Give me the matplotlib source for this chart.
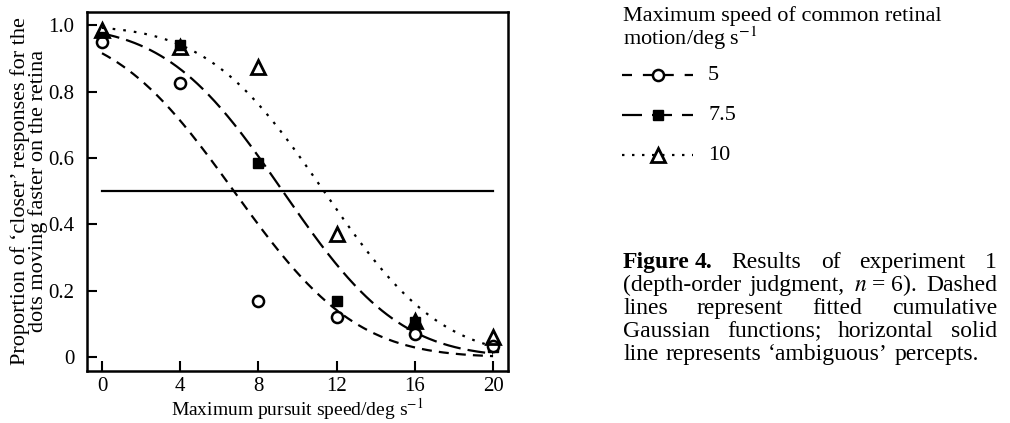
import math
import numpy as np
import matplotlib
matplotlib.use("Agg")
import matplotlib.pyplot as plt

plt.rcParams['font.family'] = ['Liberation Serif', 'DejaVu Serif']
plt.rcParams['mathtext.fontset'] = 'stix'

# pursuit speeds (deg/s)
speeds = [0, 4, 8, 12, 16, 20]

# proportion of 'closer' responses, one list per retinal speed
p_5 = [0.95, 0.825, 0.17, 0.12, 0.07, 0.035]
p_7_5 = [0.965, 0.94, 0.585, 0.17, 0.105, 0.03]
p_10 = [0.985, 0.935, 0.875, 0.37, 0.11, 0.06]

# fitted cumulative gaussian parameters (mean, sd)
fit_5 = (6.75, 4.9)
fit_7_5 = (9.25, 4.7)
fit_10 = (11.35, 4.7)

series_labels = ['5', '7.5', '10']
ambiguous = 0.5

W, H = 1010, 423
fig = plt.figure(figsize=(W / 100, H / 100), dpi=100)
ax = fig.add_axes([0.0861, 0.124, 0.4170, 0.8476])

xx = np.linspace(0, 20, 300)


def cum_gauss(x, mu, sd):
    return np.array([0.5 * math.erfc((v - mu) / (sd * math.sqrt(2))) for v in x])


lw = 1.6
curve_dashes = [(4.5, 3.2), (8, 3.2), (1.2, 3.6)]
legend_dashes = [(4.5, 4.9), (9, 4.5), (1.1, 3.4)]
fits = [fit_5, fit_7_5, fit_10]
for fit, d in zip(fits, curve_dashes):
    ax.plot(xx, cum_gauss(xx, *fit), color='black', lw=lw, dashes=d)

ax.plot([speeds[0], speeds[-1]], [ambiguous, ambiguous], color='black', lw=1.6)

markers = [
    dict(marker='o', ms=8, mfc='white', mec='black', mew=1.8),
    dict(marker='s', ms=7.5, mfc='black', mec='black', mew=1),
    dict(marker='^', ms=9.5, mfc='none', mec='black', mew=2.0),
]
ax.plot(speeds, p_7_5, ls='none', zorder=3, **markers[1])
ax.plot(speeds, p_5, ls='none', zorder=4, **markers[0])
ax.plot(speeds, p_10, ls='none', zorder=5, **markers[2])

ax.set_xlim(-0.77, 20.77)
ax.set_ylim(-0.04, 1.04)
ax.set_xticks(speeds)
ax.set_yticks([0, 0.2, 0.4, 0.6, 0.8, 1.0])
ax.set_yticklabels(['0', '0.2', '0.4', '0.6', '0.8', '1.0'])
ax.tick_params(direction='in', length=7, width=1.5, labelsize=15)
ax.tick_params(axis='y', pad=9)
ax.tick_params(axis='x', pad=5)
for s in ax.spines.values():
    s.set_linewidth(1.8)

ax.set_xlabel('Maximum pursuit speed/deg s$^{-1}$', fontsize=14, labelpad=0)
ax.set_ylabel("Proportion of \u2018closer\u2019 responses for the\n"
              "dots moving faster on the retina", fontsize=16, labelpad=0,
              linespacing=0.9)

# legend, drawn on an overlay in pixel coordinates
lax = fig.add_axes([0, 0, 1, 1])
lax.set_xlim(0, W)
lax.set_ylim(H, 0)
lax.axis('off')
lfs = 16
lax.text(623, 21, 'Maximum speed of common retinal', fontsize=lfs, va='baseline')
lax.text(623, 45, 'motion/deg s$^{-1}$', fontsize=lfs, va='baseline')
row_y = [75, 115, 155]
for lab, d, mk, y in zip(series_labels, legend_dashes, markers, row_y):
    lax.plot([622, 693], [y, y], color='black', lw=lw, dashes=d)
    lax.plot([658], [y], ls='none', **mk)
    lax.text(708, y, lab, fontsize=lfs, va='center')

# justified caption
caption = [
    (['**Figure', '**4.', 'Results', 'of', 'experiment', '1'], True),
    (['(depth-order', 'judgment,', '$n$ = 6).', 'Dashed'], True),
    (['lines', 'represent', 'fitted', 'cumulative'], True),
    (['Gaussian', 'functions;', 'horizontal', 'solid'], True),
    (['line', 'represents', '\u2018ambiguous\u2019', 'percepts.'], False),
]
x0, x1 = 623, 997
y_top = 268
line_h = 23
fs = 17
fig.canvas.draw()
renderer = fig.canvas.get_renderer()
for i, (words, justify) in enumerate(caption):
    y = 1 - (y_top + i * line_h) / H
    items = []
    for w in words:
        bold = w.startswith('**')
        t = fig.text(0, y, w.lstrip('*'), fontsize=fs, va='baseline',
                     fontweight='bold' if bold else 'normal')
        items.append(t)
    widths = [t.get_window_extent(renderer).width for t in items]
    n_gaps = len(items) - 1
    if words[0] == '**Figure':
        rest = (x1 - x0 - sum(widths) - 5) / (n_gaps - 1)
        gaps = [5] + [rest] * (n_gaps - 1)
    elif justify:
        gaps = [(x1 - x0 - sum(widths)) / n_gaps] * n_gaps
    else:
        gaps = [7] * n_gaps
    x = x0
    for j, (t, w) in enumerate(zip(items, widths)):
        t.set_x(x / W)
        if j < n_gaps:
            x += w + gaps[j]

fig.savefig('out.png', dpi=100)
